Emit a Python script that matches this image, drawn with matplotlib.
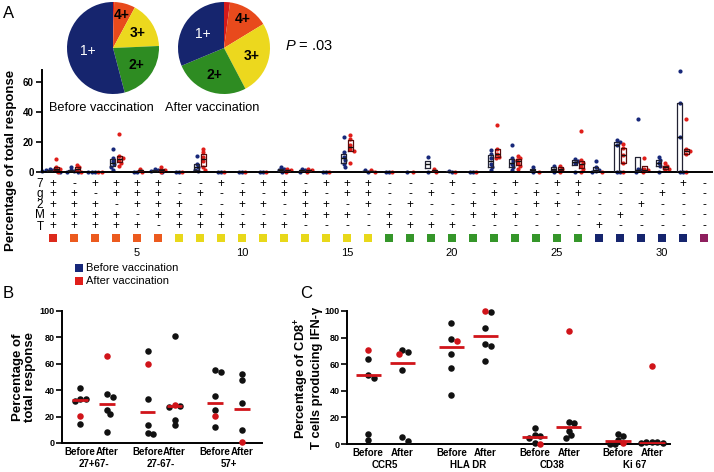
import numpy as np
import matplotlib
matplotlib.use("Agg")
import matplotlib.pyplot as plt
import matplotlib.transforms as mtrans

plt.rcParams['font.family'] = ['Liberation Sans', 'DejaVu Sans']
plt.rcParams['mathtext.fontset'] = 'custom'
plt.rcParams['mathtext.it'] = 'Liberation Sans:italic'
plt.rcParams['mathtext.rm'] = 'Liberation Sans'
plt.rcParams['mathtext.bf'] = 'Liberation Sans:bold'

# ---------------- data ----------------
pie_labels = ['5+', '4+', '3+', '2+', '1+']
pie_before = [0.4, 7.5, 16.5, 21.7, 54.3]
pie_after = [2.1, 14.2, 26.0, 26.4, 31.3]
pie_titles = ['Before vaccination', 'After vaccination']

function_rows = ['7', 'g', '2', 'M', 'T']
combos = ['+++++', '-++++', '+-+++', '++-++', '+++-+', '++++-',
          '--+++', '-+-++', '+--++', '-++-+', '+-+-+', '++--+',
          '-+++-', '+-++-', '++-+-', '+++--',
          '---++', '--+-+', '-+--+', '+---+', '--++-', '-+-+-',
          '+--+-', '-++--', '+-+--', '++---',
          '----+', '---+-', '--+--', '-+---', '+----', '-----']
cat_ticks = [5, 10, 15, 20, 25, 30]

resp_before = [
    [0, 0.5, 1, 1.5, 2, 0.5], [0, 0.5, 1, 3.5, 0], [0, 0, 0], [15.3, 9.3, 7, 5, 3.5, 1],
    [0, 0], [0, 1, 2, 0.5], [0, 0], [10.7, 5, 3, 1.5, 0.5], [0, 0], [0, 0], [0, 0],
    [0, 1, 2, 3], [0, 1, 2], [0, 0], [23, 13, 10, 8, 5, 3.3], [0, 1], [0, 0], [0],
    [10.2, 0], [0, 0.5], [0, 0], [14.7, 12, 9, 5, 3, 1], [18, 9, 7, 5, 3, 1], [3, 0],
    [4, 0], [8.7, 7.5, 6, 0], [7, 3, 1.5, 0.5, 0], [21.3, 20, 18, 0, 0], [35, 2, 1, 0],
    [10, 8, 6, 4, 0], [67.6, 46, 23, 0, 0], []]
resp_after = [
    [8.7, 3, 2, 1, 0], [4.7, 3, 1, 0], [0, 0], [25.3, 10.7, 9.5, 8, 6, 4], [2, 0],
    [3, 1.5, 0], [0], [15.3, 13, 10, 7, 3, 1], [0], [0], [0], [2, 1, 0], [2, 1, 0], [0],
    [24.7, 22, 18, 15, 14, 6.2], [1, 0], [0], [0], [2, 0], [0], [0],
    [31.3, 15, 12, 10, 9], [10.7, 9, 8, 6, 4, 2], [0], [4, 2, 0], [27, 8, 6, 4, 2, 0],
    [0], [18.4, 16, 11, 6, 0], [9.3, 2, 1, 0], [6, 4, 3, 2, 1], [35, 15, 14, 12, 0], []]

b_groups = ['27+67-', '27-67-', '57+']
b_before_black = [[42, 33.5, 33, 32, 14.7], [70, 33.7, 13.4, 7.6, 7.1], [55, 54, 35.7, 25.3, 12.2]]
b_before_red = [20.3, 60, 20.3]
b_after_black = [[37, 35, 24.8, 21.8, 8.4], [81, 28, 27.3, 17.7, 13.9], [52, 47.6, 30.4, 9.6]]
b_after_red = [66, 29, 0.8]
b_med_before = [32.5, 23.5, 30.5]
b_med_after = [29.9, 28, 25.6]

c_markers = ['CCR5', 'HLA DR', 'CD38', 'Ki 67']
c_before_black = [[64, 52, 50, 7.5, 2.75], [91, 79, 68, 57, 37], [12, 6.5, 6, 4.5, 0.5],
                  [7.75, 6.25, 3.25, 0.3, 0]]
c_before_red = [70.7, 77.7, 0.3, 0.5]
c_after_black = [[70.7, 69, 56, 5, 2.5], [99.5, 87, 75, 74, 62.6], [16.5, 15.8, 10, 7, 4.5],
                 [1.5, 1.5, 1.5, 1, 0.5]]
c_after_red = [67.6, 100, 85, 59]
c_med_before = [52, 73, 5, 2.5]
c_med_after = [61, 81, 12.5, 1]

# ---------------- styling ----------------
NAVY = '#17287a'
RED = '#e01e1a'
RED2 = '#d0141a'
pie_colors = ['#d41a1a', '#e84a1c', '#ecd81e', '#2e8c22', '#16256e']
count_colors = {5: '#dc2a1c', 4: '#ec5a1e', 3: '#e8d81a', 2: '#35962a', 1: '#16256e', 0: '#8e1f5e'}

W, H = 714, 472
fig = plt.figure(figsize=(W / 100, H / 100), dpi=100)


def fax(l, t, w, h):
    return fig.add_axes([l / W, 1 - (t + h) / H, w / W, h / H])


def ftext(x, y, s, **kw):
    fig.text(x / W, 1 - y / H, s, **kw)


def swarm_offsets(vals, dpx, xscale, yscale):
    vals = np.asarray(vals, float)
    order = np.argsort(-vals, kind='stable')
    placed = []
    offs = np.zeros(len(vals))
    cands = [0.0]
    for k in range(1, 12):
        cands += [k * 0.5 * dpx, -k * 0.5 * dpx]
    for i in order:
        y = vals[i] * yscale
        c = 0.0
        for c in cands:
            if all((c - px) ** 2 + (y - py) ** 2 >= (0.85 * dpx) ** 2 for px, py in placed):
                break
        placed.append((c, y))
        offs[i] = c / xscale
    return offs


# panel letters
ftext(3, 13, 'A', fontsize=12, va='center')
ftext(3, 293, 'B', fontsize=12, va='center')
ftext(300, 293, 'C', fontsize=12, va='center')

# ---------------- panel A scatter ----------------
xs_a, ys_a = 21.0, 1.5
xlim_a = (1 - 11 / 21, 1 + 659 / 21)
axa = fax(42, 70, 670, 102)
axa.patch.set_alpha(0)
axa.set_xlim(*xlim_a)
axa.set_ylim(0, 68)
for s in ['top', 'right']:
    axa.spines[s].set_visible(False)
axa.spines['left'].set_linewidth(1.4)
axa.spines['bottom'].set_linewidth(1.4)
axa.set_xticks([])
axa.set_yticks([0, 20, 40, 60])
axa.tick_params(axis='y', direction='out', length=4, width=1.2, labelsize=7, pad=2)
for t in axa.get_yticklabels():
    t.set_fontweight('bold')

cats = np.arange(1, len(combos) + 1)
dx = 0.16
bdata, bpos, rdata, rpos = [], [], [], []
for c, bv, rv in zip(cats, resp_before, resp_after):
    if len(bv):
        o = swarm_offsets(bv, 3.6, xs_a, ys_a)
        axa.scatter(c - dx + o, bv, s=9, color=NAVY, linewidths=0, zorder=2, clip_on=False)
        bdata.append(bv); bpos.append(c - dx)
    if len(rv):
        o = swarm_offsets(rv, 3.6, xs_a, ys_a)
        axa.scatter(c + dx + o, rv, s=9, color=RED, linewidths=0, zorder=2, clip_on=False)
        rdata.append(rv); rpos.append(c + dx)

for data, pos, ec in [(bdata, bpos, '#222233'), (rdata, rpos, '#5a0a0a')]:
    axa.boxplot(data, positions=pos, widths=0.22, whis=0, showfliers=False, showcaps=False,
                manage_ticks=False,
                boxprops=dict(color=ec, linewidth=0.9),
                medianprops=dict(color='#111111', linewidth=1.0),
                whiskerprops=dict(linewidth=0), zorder=3)

ftext(11, 160, 'Percentage of total response', rotation=90, fontsize=9.5,
      fontweight='bold', ha='center', va='center')

# ---------------- pies ----------------
lab_r = [0.0, 0.74, 0.63, 0.63, 0.55]
for (cx, vals, title) in [(113, pie_before, pie_titles[0]), (224, pie_after, pie_titles[1])]:
    axp = fax(cx - 46, 2, 92, 92)
    axp.patch.set_alpha(0)
    wedges, _ = axp.pie(vals, colors=pie_colors, startangle=90, counterclock=False,
                        radius=1.0, wedgeprops=dict(linewidth=0))
    axp.set_xlim(-1, 1)
    axp.set_ylim(-1, 1)
    axp.set_aspect('equal')
    for w, lab, r in zip(wedges, pie_labels, lab_r):
        if lab == '5+':
            continue
        ang = np.deg2rad((w.theta1 + w.theta2) / 2)
        col = 'white' if lab == '1+' else 'black'
        fw = 'normal' if lab == '1+' else 'bold'
        axp.text(r * np.cos(ang), r * np.sin(ang), lab, color=col, fontweight=fw,
                 fontsize=10, ha='center', va='center')
    ftext(cx - 12, 108, title, fontsize=9.2, ha='center', va='center')

ftext(285, 46, r'$\it{P}$ = .03', fontsize=10.5, va='center')

# table below
axt = fax(42, 172, 670, 118)
axt.set_xlim(*xlim_a)
axt.set_ylim(290, 172)
axt.axis('off')
row_y = [184, 194.5, 205, 215.5, 226.5]
for ry, lab in zip(row_y, function_rows):
    axt.text(1 + (40 - 53) / 21, ry, lab, fontsize=8.5, ha='center', va='center', clip_on=False)
for c, combo in zip(cats, combos):
    for ry, ch in zip(row_y, combo):
        axt.text(c, ry, ch, fontsize=8.5, ha='center', va='center')
sq_cols = [count_colors[cb.count('+')] for cb in combos]
axt.scatter(cats, [238] * len(cats), marker='s', s=30, c=sq_cols, linewidths=0)
for t in cat_ticks:
    axt.text(t, 253, str(t), fontsize=8, ha='center', va='center')
lx = 1 + (79 - 53) / 21
axt.scatter([lx, lx], [268, 281], marker='s', s=26, c=[NAVY, RED], linewidths=0)
axt.text(lx + 0.33, 268, 'Before vaccination', fontsize=8, va='center')
axt.text(lx + 0.33, 281, 'After vaccination', fontsize=8, va='center')


# ---------------- panels B and C ----------------
def dot_panel(ax, pos, black, red, med, xs, ys, half):
    for p, bl, rd, m in zip(pos, black, red, med):
        vals = list(bl) + [rd]
        o = swarm_offsets(vals, 5.5, xs, ys)
        ax.scatter(p + o[:-1], bl, s=22, color='#111111', linewidths=0, zorder=3, clip_on=False)
        ax.scatter([p + o[-1]], [rd], s=22, color=RED2, linewidths=0, zorder=3, clip_on=False)
        ax.hlines(m, p - half, p + half, color=RED2, lw=2, zorder=4)


def style_axes(ax):
    for s in ['top', 'right']:
        ax.spines[s].set_visible(False)
    ax.spines['left'].set_linewidth(1.4)
    ax.spines['bottom'].set_linewidth(1.4)
    ax.set_ylim(0, 100)
    ax.set_yticks([0, 20, 40, 60, 80, 100])
    ax.tick_params(axis='y', direction='out', length=4, width=1.2, labelsize=6.5, pad=1.5)
    ax.tick_params(axis='x', length=0, labelsize=7, pad=3)
    for t in ax.get_yticklabels():
        t.set_fontweight('bold')


# B
axb = fax(62, 311, 200, 132)
b_pos_before = [0, 2.5, 5]
b_pos_after = [1, 3.5, 6]
axb.set_xlim(-0.667, 6.74)
style_axes(axb)
dot_panel(axb, b_pos_before, b_before_black, b_before_red, b_med_before, 27, 1.32, 0.28)
dot_panel(axb, b_pos_after, b_after_black, b_after_red, b_med_after, 27, 1.32, 0.28)
ticks_b = sorted(b_pos_before + b_pos_after)
axb.set_xticks(ticks_b)
axb.set_xticklabels(['Before', 'After'] * 3, fontweight='bold')
tb = mtrans.blended_transform_factory(axb.transData, axb.transAxes)
for p0, p1, g in zip(b_pos_before, b_pos_after, b_groups):
    axb.text((p0 + p1) / 2, -21 / 132, g, transform=tb, fontsize=7, fontweight='bold',
             ha='center', va='center')
ftext(24, 377, 'Percentage of\ntotal response', rotation=90, fontsize=9.5, fontweight='bold',
      ha='center', va='center', linespacing=1.05)

# C
axc = fax(347, 311, 323, 133)
c_pos_before = [0, 2.45, 4.9, 7.35]
c_pos_after = [1, 3.45, 5.9, 8.35]
axc.set_xlim(-0.62, 8.88)
style_axes(axc)
dot_panel(axc, c_pos_before, c_before_black, c_before_red, c_med_before, 34, 1.33, 0.37)
dot_panel(axc, c_pos_after, c_after_black, c_after_red, c_med_after, 34, 1.33, 0.37)
ticks_c = sorted(c_pos_before + c_pos_after)
axc.set_xticks(ticks_c)
axc.set_xticklabels(['Before', 'After'] * 4, fontweight='bold')
tc = mtrans.blended_transform_factory(axc.transData, axc.transAxes)
for p0, p1, g in zip(c_pos_before, c_pos_after, c_markers):
    axc.text((p0 + p1) / 2, -21 / 133, g, transform=tc, fontsize=7, fontweight='bold',
             ha='center', va='center')
ftext(308, 378, 'Percentage of CD8$^{\\mathbf{+}}$\nT cells producing IFN-γ', rotation=90,
      fontsize=9.3, fontweight='bold', ha='center', va='center', linespacing=1.05)

fig.savefig('out.png', dpi=100)
